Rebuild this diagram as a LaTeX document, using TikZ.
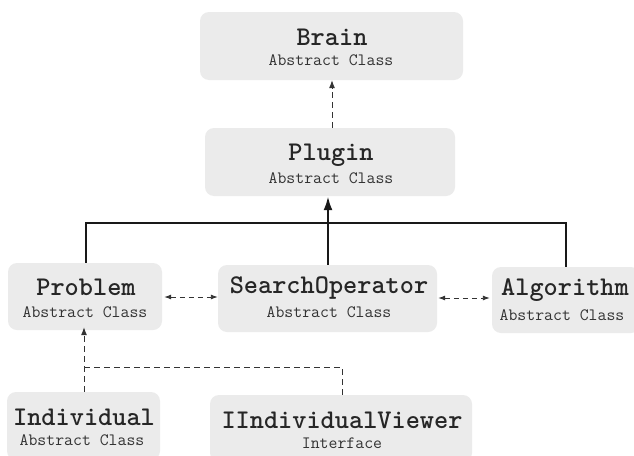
\documentclass[tikz,border=0pt]{standalone}
\usepackage{fontspec}
\usetikzlibrary{arrows.meta}
\begin{document}
\begin{tikzpicture}[x=1pt,y=-1pt,
  box/.style={draw=none, fill=black!8, rounded corners=9pt, inner sep=0pt},
  ttl/.style={font=\fontsize{27}{30}\selectfont\ttfamily\bfseries, inner sep=0pt, text=black!85},
  sub/.style={font=\fontsize{17.3}{19}\selectfont\ttfamily, inner sep=0pt, text=black!80},
  dsh/.style={line width=0.9pt, dash pattern=on 6pt off 4pt, draw=black!80},
  dd/.style={line width=0.9pt, dash pattern=on 5pt off 4pt, draw=black!80, {Latex[length=7pt,width=5pt]}-{Latex[length=7pt,width=5pt]}},
  tip/.style={-{Latex[length=8pt,width=6pt]}},
  tree/.style={line width=1.8pt, draw=black!90},
  bigtip/.style={line width=2.4pt, draw=black!90, -{Latex[length=14pt,width=9pt]}}
]
\useasboundingbox (0,0) rectangle (634,455);
\fill[white] (0,0) rectangle (634,455);

% boxes
\node[box, minimum width=263pt, minimum height=68pt] (brain) at (331.5,46) {};
\node[box, minimum width=250pt, minimum height=68pt] (plugin) at (330,162) {};
\node[box, minimum width=154pt, minimum height=67pt] (problem) at (85,296.5) {};
\node[box, minimum width=219pt, minimum height=67pt] (search) at (327.5,298.5) {};
\node[box, minimum width=148pt, minimum height=66pt] (algorithm) at (566,300) {};
\node[box, minimum width=153pt, minimum height=68pt] (individual) at (83.5,426) {};
\node[box, minimum width=262pt, minimum height=67pt] (viewer) at (341,428.5) {};

% texts
\node[ttl] (tbrain) at (332,37) {Brain};
\node[sub] (sbrain) at (331,60) {Abstract Class};
\node[ttl] (tplugin) at (331,155) {Plugin};
\node[sub] (splugin) at (331,178) {Abstract Class};
\node[ttl] (tproblem) at (86,287) {Problem};
\node[sub] (sproblem) at (85,312) {Abstract Class};
\node[ttl] (tsearch) at (329,288) {SearchOperator};
\node[sub] (ssearch) at (329,312) {Abstract Class};
\node[ttl] (talg) at (565,290) {Algorithm};
\node[sub] (salg) at (562,315) {Abstract Class};
\node[ttl] (tind) at (84,417) {Individual};
\node[sub] (sind) at (82,440) {Abstract Class};
\node[ttl] (tview) at (342,420) {IIndividualViewer};
\node[sub] (sview) at (342,443) {Interface};

% connectors
\draw[dsh,tip] (plugin.north -| tbrain) -- (brain.south -| tbrain);
\draw[bigtip] (search.north -| 328,0) -- (plugin.south -| 328,0);
\coordinate (hl) at (86,223);
\coordinate (hr) at (566,223);
\draw[tree] (problem.north -| hl) -- (hl) -- (hr) -- (algorithm.north -| hr);
\draw[dd] ([xshift=2pt]problem.east |- 0,297) -- (search.west |- 0,297);
\draw[dd] ([xshift=1pt]search.east |- 0,298) -- ([xshift=-2pt]algorithm.west |- 0,298);
\coordinate (vj) at (342,367);
\draw[dsh,tip] (individual.north -| tind) -- ([yshift=3pt]problem.south -| tind);
\draw[dsh] (viewer.north -| vj) -- (vj) -- (vj -| tind);
\end{tikzpicture}
\end{document}
